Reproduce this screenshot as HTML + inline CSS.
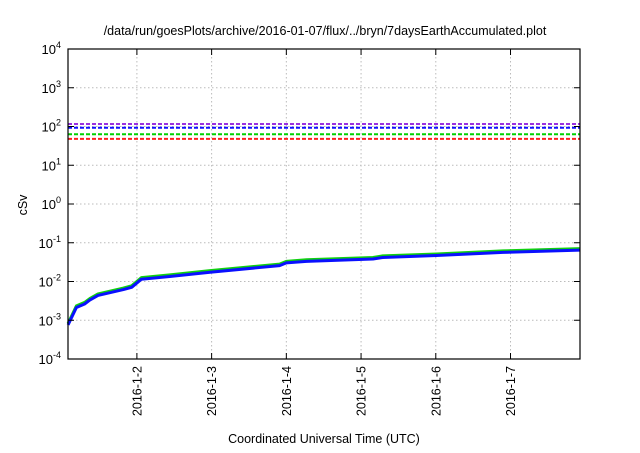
<!DOCTYPE html>
<html><head><meta charset="utf-8"><style>
body{margin:0;background:#fff;}
svg text{font-family:"Liberation Sans",sans-serif;fill:#000;}
</style></head><body>
<svg id="chart" width="640" height="448" viewBox="0 0 640 448">
<text x="325" y="35" font-size="12.5" text-anchor="middle">/data/run/goesPlots/archive/2016-01-07/flux/../bryn/7daysEarthAccumulated.plot</text>
<text x="0" y="0" font-size="12.5" text-anchor="middle" transform="translate(27,205) rotate(-90)">cSv</text>
<text x="324" y="443" font-size="12.5" text-anchor="middle">Coordinated Universal Time (UTC)</text>
<g id="grid"></g><g id="series"></g><g id="axes"></g>
</svg>
<script>
const yTickExps=[-4,-3,-2,-1,0,1,2,3,4];
const xTickDays=[1,2,3,4,5,6];
const xTickLabels=["2016-1-2","2016-1-3","2016-1-4","2016-1-5","2016-1-6","2016-1-7"];
const thresholdValues=[116,93,63,48];
const thresholdColors=["#9a30e0","#1010ff","#00d000","#ff2020"];
const timeDays=[0.08,0.19,0.30,0.37,0.48,0.82,0.93,1.06,1.44,1.98,2.91,3.00,3.27,4.16,4.29,5.01,5.90,6.93];
const blueLog=[-3.12,-2.67,-2.58,-2.48,-2.36,-2.21,-2.15,-1.94,-1.87,-1.76,-1.59,-1.52,-1.48,-1.42,-1.38,-1.33,-1.25,-1.19];
const greenLog=[-3.08,-2.63,-2.54,-2.44,-2.32,-2.17,-2.11,-1.90,-1.83,-1.72,-1.55,-1.48,-1.44,-1.38,-1.34,-1.29,-1.21,-1.15];

const L=68,R=580,T=49,B=359;
const xMin=0.078,xMax=6.93;
const xs=t=>L+(t-xMin)/(xMax-xMin)*(R-L);
const ys=lg=>B-(lg+4)/8*(B-T);
const NS="http://www.w3.org/2000/svg";
function mk(tag,attrs,parent){const e=document.createElementNS(NS,tag);for(const k in attrs)e.setAttribute(k,attrs[k]);parent.appendChild(e);return e;}
const grid=document.getElementById('grid'),series=document.getElementById('series'),axes=document.getElementById('axes');

yTickExps.forEach(ex=>{
  const y=ys(ex);
  if(ex>-4&&ex<4){const g=mk('line',{x1:L,x2:R,y1:y,y2:y,stroke:'#bbb','stroke-dasharray':'1.5,2.5','stroke-width':1},grid);
  
  }
  const tk=mk('path',{d:`M${L},${y}h6M${R},${y}h-6`,stroke:'#000','stroke-width':1},axes);
  
  
  const t=mk('text',{x:61,y:y+5,'font-size':13,'text-anchor':'end'},axes);
  
  
  t.textContent='10';
  const s=mk('tspan',{dy:-6,'font-size':9},t);s.textContent=String(ex);
});
xTickDays.forEach((d,i)=>{
  const x=xs(d);
  const g=mk('line',{x1:x,x2:x,y1:T,y2:B,stroke:'#bbb','stroke-dasharray':'1.5,2.5','stroke-width':1},grid);
  
  
  const tk=mk('path',{d:`M${x},${B}v-6M${x},${T}v6`,stroke:'#000','stroke-width':1},axes);
  
  
  const t=mk('text',{x:0,y:0,'font-size':12.5,'text-anchor':'end',transform:`translate(${x+4.5},366) rotate(-90)`},axes);
  
  
  t.textContent=xTickLabels[i];
});
thresholdValues.forEach((v,i)=>{
  const y=ys(Math.log10(v));
  const l=mk('line',{x1:L,x2:R,y1:y,y2:y,stroke:thresholdColors[i],'stroke-width':2,'stroke-dasharray':'4,2'},series);
  
  
});
function curve(arr,color,w,name){
  const d=timeDays.map((t,i)=>(i?'L':'M')+xs(t).toFixed(1)+','+ys(arr[i]).toFixed(1)).join('');
  const p=mk('path',{d:d,fill:'none',stroke:color,'stroke-width':w,'stroke-linejoin':'round'},series);
  
  
}
curve(greenLog,'#10d010',3,'green-series');
curve(blueLog,'#0a10ff',3,'blue-series');
const fr=mk('rect',{x:L,y:T,width:R-L,height:B-T,fill:'none',stroke:'#000','stroke-width':1.2},axes);


</script>
</body></html>
